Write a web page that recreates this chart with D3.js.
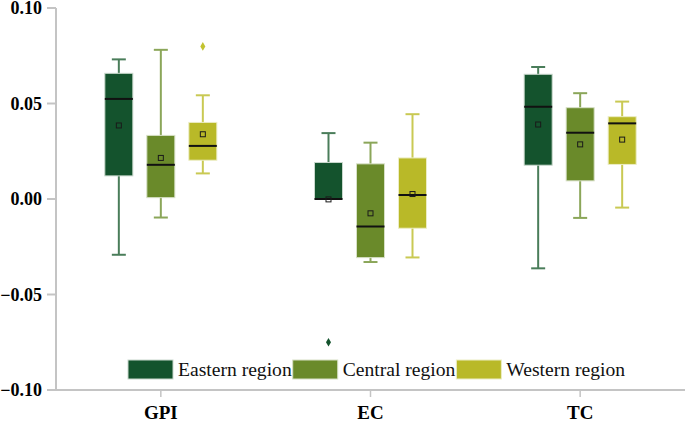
<!DOCTYPE html>
<html>
<head>
<meta charset="utf-8">
<script src="https://cdn.jsdelivr.net/npm/d3@7"></script>
<style>
  body { margin: 0; background: #fff; }
  svg text { font-family: "Liberation Serif", "DejaVu Serif", "Times New Roman", serif; }
</style>
</head>
<body>
<div id="chart"></div>
<script>
// categories
const metrics = ["GPI", "EC", "TC"];
const regions = ["Eastern region", "Central region", "Western region"];

// box stats, one row per region, values in metric order (GPI, EC, TC)
const whiskerLow = [[-0.0292, 0.0, -0.0363], [-0.0097, -0.0330, -0.0099], [0.0134, -0.0306, -0.0045]];
const q1 = [[0.0121, 0.0, 0.0177], [0.0007, -0.0307, 0.0095], [0.0203, -0.0153, 0.0181]];
const median = [[0.0524, 0.0, 0.0483], [0.0179, -0.0144, 0.0347], [0.0278, 0.0021, 0.0396]];
const q3 = [[0.0658, 0.0191, 0.0653], [0.0333, 0.0184, 0.0478], [0.0401, 0.0215, 0.0431]];
const whiskerHigh = [[0.0731, 0.0345, 0.0691], [0.0781, 0.0295, 0.0554], [0.0543, 0.0444, 0.0510]];
const means = [[0.0385, -0.0002, 0.0390], [0.0215, -0.0075, 0.0286], [0.0339, 0.0026, 0.0311]];
// outliers: [regionIndex, metricIndex, value]
const outliers = [[2, 0, 0.0799], [0, 1, -0.0750]];

const yTicks = [0.10, 0.05, 0.00, -0.05, -0.10];

const fills = ["#14532d", "#6a8a2a", "#b9b928"];
const whiskerColors = ["#4a7d5a", "#8ba659", "#c9c953"];
const edgeColors = ["#c9d8cd", "#d7e0c6", "#ecedc4"];
const serif = "'Liberation Serif', 'DejaVu Serif', 'Times New Roman', serif";

const width = 685, height = 422;

const svg = d3.select("#chart").append("svg")
  .attr("width", width)
  .attr("height", height);

const y = d3.scaleLinear().domain([-0.1, 0.1]).range([390, 8]);
const x = d3.scaleBand().domain(metrics).range([56, 685]);
const xr = d3.scaleBand().domain(regions).range([-70, 70])
  .paddingInner(1 / 3).paddingOuter(1 / 3);

// axes
svg.append("line")
  .attr("x1", 56).attr("x2", 56).attr("y1", y(0.1)).attr("y2", y(-0.1))
  .attr("stroke", "#c4c4c4").attr("stroke-width", 2);
svg.append("line")
  .attr("x1", 55).attr("x2", 685).attr("y1", y(-0.1)).attr("y2", y(-0.1))
  .attr("stroke", "#c4c4c4").attr("stroke-width", 2);

svg.selectAll(".ytick").data(yTicks).enter().append("line")
  .attr("x1", 47).attr("x2", 56)
  .attr("y1", d => y(d)).attr("y2", d => y(d))
  .attr("stroke", "#c4c4c4").attr("stroke-width", 2);

svg.selectAll(".ylab").data(yTicks).enter().append("text")
  .attr("x", 42)
  .attr("y", d => y(d))
  .attr("dy", "0.34em")
  .attr("text-anchor", "end")
  .attr("font-family", serif)
  .style("font-size", "18px")
  .style("font-weight", "bold")
  .text(d => d3.format(".2f")(d));

svg.selectAll(".xtick").data(metrics).enter().append("line")
  .attr("x1", d => x(d) + x.bandwidth() / 2).attr("x2", d => x(d) + x.bandwidth() / 2)
  .attr("y1", 391).attr("y2", 397)
  .attr("stroke", "#c4c4c4").attr("stroke-width", 1.5);

svg.selectAll(".xlab").data(metrics).enter().append("text")
  .attr("x", d => x(d) + x.bandwidth() / 2)
  .attr("y", 419)
  .attr("text-anchor", "middle")
  .attr("font-family", serif)
  .style("font-size", "19px")
  .style("font-weight", "bold")
  .text(d => d);

// build box rows
let boxes = [];
regions.forEach((r, ri) => {
  metrics.forEach((m, mi) => {
    boxes.push({
      ri: ri, region: r, metric: m,
      lo: whiskerLow[ri][mi], q1: q1[ri][mi], med: median[ri][mi],
      q3: q3[ri][mi], hi: whiskerHigh[ri][mi], mean: means[ri][mi]
    });
  });
});

const bw = xr.bandwidth();
const cx = d => x(d.metric) + x.bandwidth() / 2 + xr(d.region) + bw / 2;

const g = svg.append("g");

// whisker lines
g.selectAll(".whisker").data(boxes).enter().append("line")
  .attr("x1", cx).attr("x2", cx)
  .attr("y1", d => y(d.hi)).attr("y2", d => y(d.lo))
  .attr("stroke", d => whiskerColors[d.ri]).attr("stroke-width", 2);

// caps
["hi", "lo"].forEach(k => {
  g.selectAll(".cap-" + k).data(boxes).enter().append("line")
    .attr("x1", d => cx(d) - 7).attr("x2", d => cx(d) + 7)
    .attr("y1", d => y(d[k])).attr("y2", d => y(d[k]))
    .attr("stroke", d => whiskerColors[d.ri]).attr("stroke-width", 2);
});

// boxes
g.selectAll(".box").data(boxes).enter().append("rect")
  .attr("x", d => cx(d) - bw / 2)
  .attr("width", bw)
  .attr("y", d => y(d.q3))
  .attr("height", d => Math.max(1, y(d.q1) - y(d.q3)))
  .attr("fill", d => fills[d.ri])
  .attr("stroke", d => edgeColors[d.ri])
  .attr("stroke-width", 1);

// median
g.selectAll(".median").data(boxes).enter().append("line")
  .attr("x1", d => cx(d) - bw / 2).attr("x2", d => cx(d) + bw / 2)
  .attr("y1", d => y(d.med)).attr("y2", d => y(d.med))
  .attr("stroke", "#111").attr("stroke-width", 2);

// mean markers
g.selectAll(".mean").data(boxes).enter().append("rect")
  .attr("x", d => cx(d) - 2.5)
  .attr("y", d => y(d.mean) - 2.5)
  .attr("width", 5).attr("height", 5)
  .attr("fill", "none")
  .attr("stroke", "#1a1a1a").attr("stroke-width", 1);

// outliers
g.selectAll(".outlier").data(outliers).enter().append("path")
  .attr("d", d3.symbol().type(d3.symbolDiamond).size(22))
  .attr("transform", d => "translate(" +
    (x(metrics[d[1]]) + x.bandwidth() / 2 + xr(regions[d[0]]) + bw / 2) + "," + y(d[2]) + ")")
  .attr("fill", d => d[0] === 2 ? "#c3c330" : fills[d[0]]);

// legend
const legend = svg.append("g").attr("class", "legend");
let lx = 128;
regions.forEach((r, i) => {
  legend.append("rect")
    .attr("x", lx).attr("y", 360)
    .attr("width", 45).attr("height", 19)
    .attr("fill", fills[i])
    .attr("stroke", edgeColors[i]).attr("stroke-width", 1);
  let t = legend.append("text")
    .attr("x", lx + 50).attr("y", 376)
    .attr("font-family", serif)
    .style("font-size", "19.6px")
    .attr("fill", "#111")
    .text(r);
  lx = lx + 50 + t.node().getComputedTextLength() + 1;
});
</script>
</body>
</html>
